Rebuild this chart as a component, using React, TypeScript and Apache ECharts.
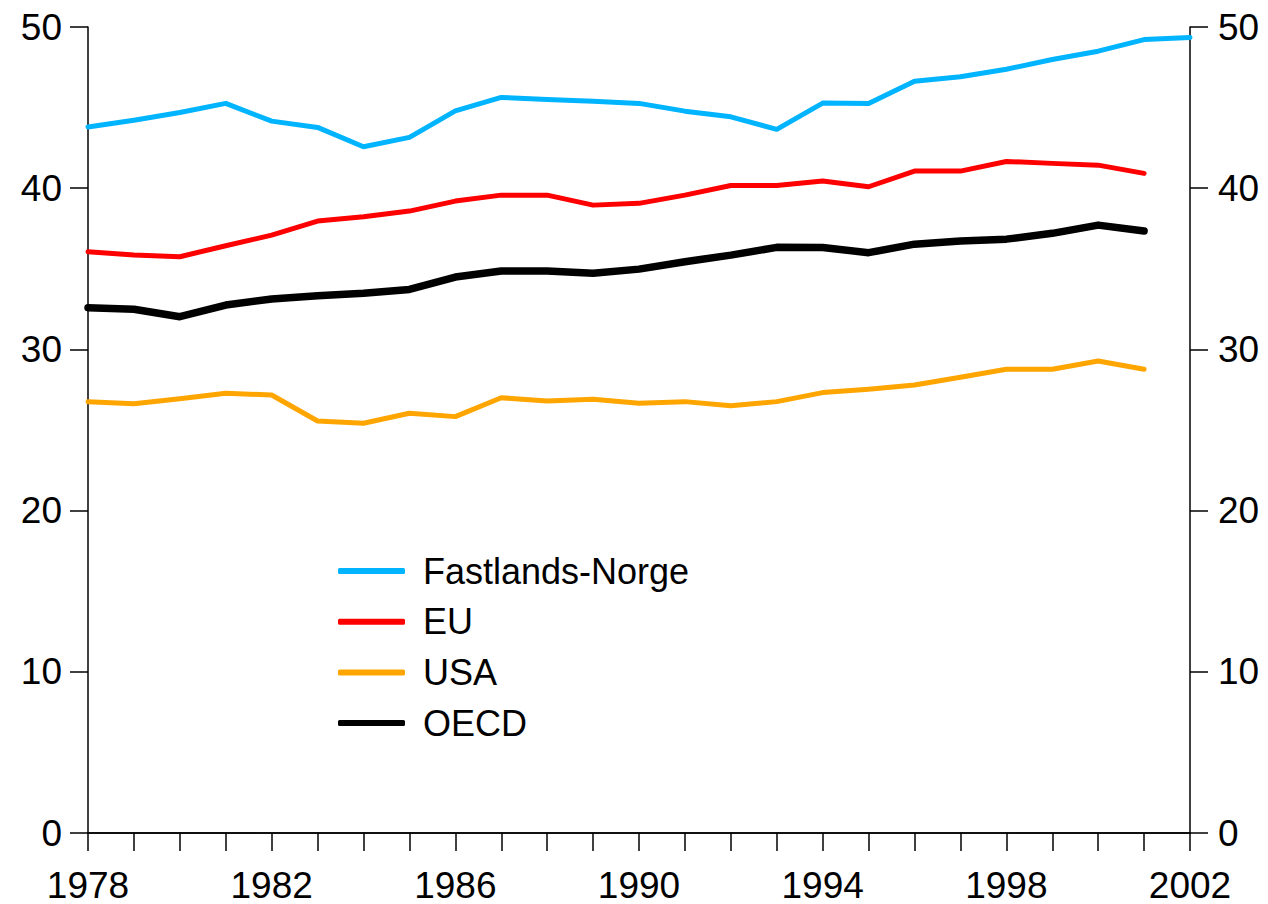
import React, { useEffect, useRef } from "react";
import * as echarts from "echarts";

const years = [1978, 1979, 1980, 1981, 1982, 1983, 1984, 1985, 1986, 1987, 1988, 1989, 1990, 1991, 1992, 1993, 1994, 1995, 1996, 1997, 1998, 1999, 2000, 2001, 2002];

const fastlandsNorge = [43.8, 44.22, 44.7, 45.26, 44.16, 43.77, 42.57, 43.15, 44.8, 45.63, 45.5, 45.4, 45.26, 44.78, 44.43, 43.65, 45.28, 45.26, 46.64, 46.91, 47.38, 47.98, 48.5, 49.22, 49.35];
const eu = [36.06, 35.85, 35.75, 36.43, 37.09, 37.96, 38.23, 38.58, 39.2, 39.57, 39.57, 38.95, 39.06, 39.57, 40.17, 40.17, 40.45, 40.09, 41.06, 41.06, 41.66, 41.54, 41.43, 40.92];
const usa = [26.76, 26.63, 26.94, 27.28, 27.17, 25.56, 25.42, 26.04, 25.83, 27.0, 26.8, 26.91, 26.66, 26.76, 26.51, 26.76, 27.32, 27.53, 27.79, 28.27, 28.77, 28.77, 29.28, 28.77];
const oecd = [32.59, 32.49, 32.03, 32.75, 33.13, 33.33, 33.48, 33.72, 34.49, 34.86, 34.86, 34.72, 34.98, 35.44, 35.85, 36.33, 36.32, 36.0, 36.53, 36.72, 36.84, 37.2, 37.71, 37.34];

const seriesNames = ["Fastlands-Norge", "EU", "USA", "OECD"];

const toPairs = (vals: number[]) => vals.map((v, i) => [years[i], v]);

export default function App() {
  const ref = useRef<HTMLDivElement>(null);
  useEffect(() => {
    if (!ref.current) return;
    const chart = echarts.init(ref.current, null, { renderer: "svg" });
    const font = "'Liberation Sans', Arial, sans-serif";
    const axisLine = { show: true, lineStyle: { color: "#000", width: 1.5 } };
    const yAxisCommon = {
      type: "value",
      min: 0,
      max: 50,
      interval: 10,
      axisLine,
      axisTick: { show: true, inside: false, length: 18, lineStyle: { color: "#000", width: 1.5 } },
      splitLine: { show: false },
      axisLabel: { color: "#000", fontSize: 37, fontFamily: font, margin: 26 },
    };
    const mk = (name: string, vals: number[], color: string, width: number) => ({
      name,
      type: "line",
      data: toPairs(vals),
      showSymbol: false,
      symbol: "none",
      lineStyle: { color, width, cap: "round", join: "round" },
      itemStyle: { color },
    });
    chart.setOption({
      animation: false,
      backgroundColor: "#fff",
      grid: { left: 88, right: 78, top: 27, bottom: 71, containLabel: false },
      xAxis: [
        {
          type: "value",
          min: 1978,
          max: 2002,
          interval: 1,
          position: "bottom",
          axisLine,
          axisTick: { show: true, length: 18, lineStyle: { color: "#000", width: 1.5 } },
          splitLine: { show: false },
          axisLabel: {
            color: "#000",
            fontSize: 37,
            lineHeight: 30,
            fontFamily: font,
            margin: 37,
            showMinLabel: true,
            showMaxLabel: true,
            formatter: (v: number) => ((v - 1978) % 4 === 0 ? String(v) : ""),
          },
        },
        {
          type: "value",
          min: 1978,
          max: 2002,
          position: "top",
          axisLine,
          axisTick: { show: false },
          axisLabel: { show: false },
          splitLine: { show: false },
        },
      ],
      yAxis: [
        { ...yAxisCommon, position: "left" },
        { ...yAxisCommon, position: "right", axisLabel: { ...yAxisCommon.axisLabel, margin: 28 } },
      ],
      legend: {
        orient: "vertical",
        left: 333,
        top: 548,
        itemWidth: 67,
        itemHeight: 6,
        itemGap: 14.7,
        icon: "roundRect",
        data: seriesNames,
        textStyle: { color: "#000", fontSize: 36, fontFamily: font, padding: [0, 0, 0, 13] },
      },
      series: [
        mk(seriesNames[0], fastlandsNorge, "#00B4FF", 5),
        mk(seriesNames[1], eu, "#FF0000", 5),
        mk(seriesNames[2], usa, "#FFA500", 5),
        mk(seriesNames[3], oecd, "#000000", 7.5),
      ],
    });
    return () => chart.dispose();
  }, []);
  return <div ref={ref} style={{ position: "fixed", left: 0, top: 0, width: 1268, height: 904 }} />;
}
